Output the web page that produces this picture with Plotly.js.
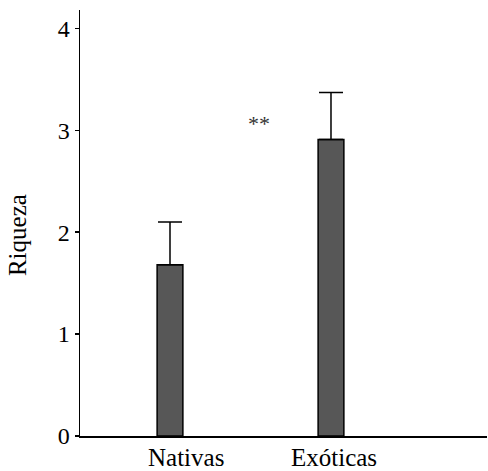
<!DOCTYPE html>
<html>
<head>
<meta charset="utf-8">
<script src="https://cdn.plot.ly/plotly-3.0.1.min.js"></script>
<style>html,body{margin:0;padding:0;background:#fff;}#chart{width:488px;height:471px;}</style>
</head>
<body>
<div id="chart"></div>
<script>
const categories = ["Nativas", "Exóticas"];
const riqueza = [1.68, 2.91];
const errorUp = [0.42, 0.46];
const yTicks = [0, 1, 2, 3, 4];
const yLabel = "Riqueza";
const signif = "**";

const font = "Times New Roman, Times, Liberation Serif, Tinos, serif";

const trace = {
  type: "bar",
  x: categories,
  y: riqueza,
  width: 0.16,
  marker: {color: "#575757", line: {color: "#000", width: 1.5}},
  error_y: {type: "data", array: errorUp, symmetric: false, arrayminus: [0, 0],
            color: "#000", thickness: 1.5, width: 12},
  hoverinfo: "none"
};

const annotations = [
  {text: categories[0], xref: "x", yref: "paper", x: 0.1, y: 0, yanchor: "top", xanchor: "center", yshift: -6,
   showarrow: false, font: {family: font, size: 25, color: "#000"}},
  {text: categories[1], xref: "x", yref: "paper", x: 1.02, y: 0, yanchor: "top", xanchor: "center", yshift: -6,
   showarrow: false, font: {family: font, size: 25, color: "#000"}},
  {text: yLabel, xref: "paper", yref: "paper", x: -0.152, y: 0.472, textangle: -90,
   xanchor: "center", yanchor: "middle",
   showarrow: false, font: {family: font, size: 25, color: "#000"}},
  {text: signif, xref: "x", yref: "y", x: 0.55, y: 3.07, yanchor: "middle", xanchor: "center",
   showarrow: false, font: {family: font, size: 22, color: "#333"}}
];

const layout = {
  width: 488, height: 471,
  margin: {l: 80, r: 1, t: 10, b: 35},
  paper_bgcolor: "#fff", plot_bgcolor: "#fff",
  showlegend: false,
  font: {family: font},
  xaxis: {type: "category", range: [-0.559, 1.969], showticklabels: false, ticks: "",
          showgrid: false, zeroline: false, showline: true, linecolor: "#000", linewidth: 1.5},
  yaxis: {range: [0, 4.18], tickvals: yTicks, ticktext: yTicks.map(String), ticks: "outside",
          ticklen: 4, tickcolor: "#000", tickwidth: 1.5, showgrid: false, zeroline: false,
          showline: true, linecolor: "#000", linewidth: 1.5,
          tickfont: {family: font, size: 24, color: "#000"}},
  annotations: annotations
};

Plotly.newPlot("chart", [trace], layout, {staticPlot: true, displayModeBar: false});
</script>
</body>
</html>
